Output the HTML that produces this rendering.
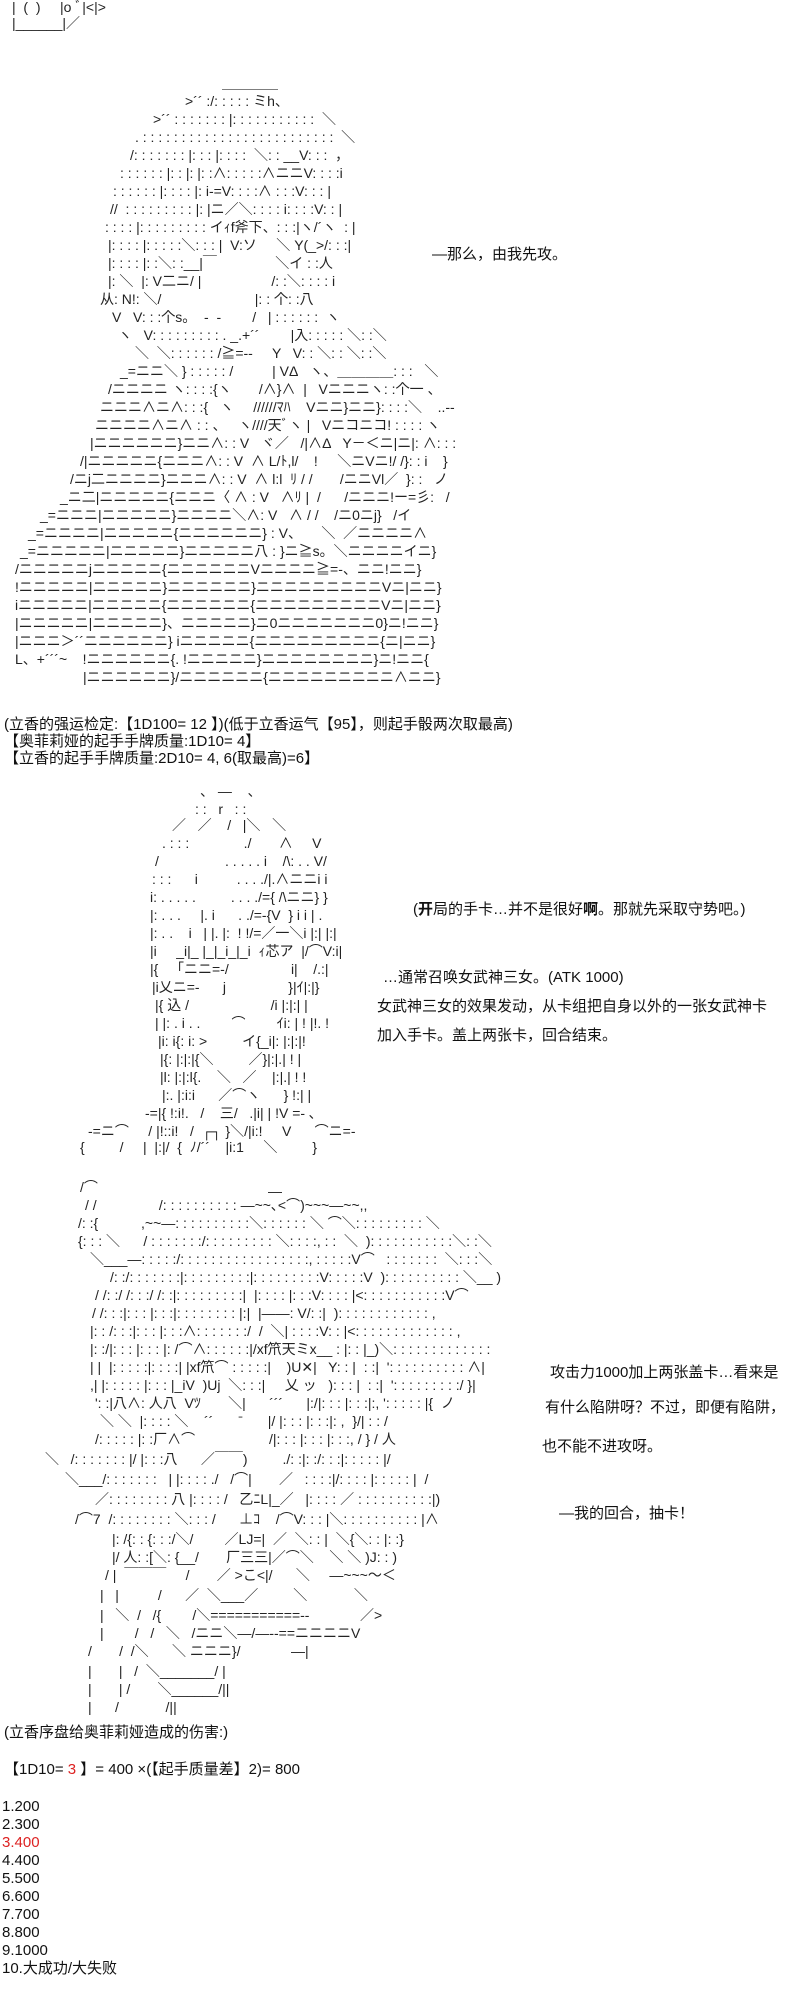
<!DOCTYPE html>
<html><head><meta charset="utf-8"><style>
html,body{margin:0;padding:0;background:#fff;}
body{width:800px;height:2000px;position:relative;overflow:hidden;color:#111;
font-family:"Liberation Sans","Noto Sans CJK SC",sans-serif;}
.aa{position:absolute;white-space:pre;font-size:14px;line-height:18px;font-family:"Liberation Sans","Noto Sans CJK JP",sans-serif;color:#222;}
.aa div{position:absolute;white-space:pre;}
.t{position:absolute;white-space:pre;font-size:15px;line-height:18px;}
.red{color:#d22;}
</style></head><body>

<div class="aa" style="left:0;top:0">
<div style="left:12px;top:-2px">|  (  )     |o ﾞ|&lt;|&gt;</div>
<div style="left:12px;top:14px">|______|／</div>
</div>

<div class="aa" style="left:0;top:74px">
<div style="left:222px;top:0">＿＿＿＿</div>
<div style="left:185px;top:18px">&gt;´´ :/: : : : : ミh、</div>
<div style="left:153px;top:36px">&gt;´´ : : : : : : : |: : : : : : : : : : :  ＼</div>
<div style="left:135px;top:54px">. : : : : : : : : : : : : : : : : : : : : : : : : :  ＼</div>
<div style="left:130px;top:72px">/: : : : : : : |: : : |: : : :  ＼: : __V: : :  ，</div>
<div style="left:120px;top:90px">: : : : : : |: : |: |: :∧: : : : :∧ニニV: : : :i</div>
<div style="left:113px;top:108px">: : : : : : |: : : : |: i-=V: : : :∧ : : :V: : : |</div>
<div style="left:110px;top:126px">//  : : : : : : : : : |: |ニ／＼: : : : i: : : :V: : |</div>
<div style="left:105px;top:144px">: : : : |: : : : : : : : : イｨf斧下、: : :|ヽ/´ヽ  : |</div>
<div style="left:108px;top:162px">|: : : : |: : : : :＼: : : |  V:ソ     ＼ Y(_&gt;/: : :|</div>
<div style="left:108px;top:180px">|: : : : |: :＼: :__|￣               ＼イ : :人</div>
<div style="left:108px;top:198px">|: ＼  |: V二ニ/ |                  /: :＼: : : : i</div>
<div style="left:100px;top:216px">从: N!: ＼/                        |: : 个: :八</div>
<div style="left:112px;top:234px">V   V: : :个s。  ‐  ‐        /   | : : : : : :  ヽ</div>
<div style="left:118px;top:252px">ヽ   V: : : : : : : : : . _.+´´        |入: : : : : ＼: :＼</div>
<div style="left:135px;top:270px">＼  ＼: : : : : : /≧=‐‐     Y   V: : ＼: : ＼: :＼</div>
<div style="left:120px;top:288px">_=ニニ＼ } : : : : : /          | VΔ   ヽ、＿＿＿＿: : :   ＼</div>
<div style="left:108px;top:306px">/ニニニニ ヽ: : : :{ヽ       /∧}∧  |   Vニニニヽ: :个一 、</div>
<div style="left:100px;top:324px">ニニニ∧ニ∧: : :{   ヽ     //////ﾏﾊ    Vニニ}ニニ}: : : :＼    ..--</div>
<div style="left:95px;top:342px">ニニニニ∧ニ∧ : : 、   ヽ////天ﾞヽ |   Vニコニコ! : : : : ヽ</div>
<div style="left:90px;top:360px">|ニニニニニニ}ニニ∧: : V   ヾ／   /|∧Δ   Y－＜ニ|ニ|: ∧: : :</div>
<div style="left:80px;top:378px">/|ニニニニニ{ニニニ∧: : V  ∧ L/ﾄ,l/    !     ＼ニVニ!/ /}: : i    }</div>
<div style="left:70px;top:396px">/ニj二ニニニニ}ニニニ∧: : V  ∧ l:l  ﾘ / /       /ニニVl／  }: :   ノ</div>
<div style="left:60px;top:414px">_ニ二|ニニニニニ{ニニニ〈 ∧ : V   ∧ﾘ |  /      /ニニニ!ー=彡:   /</div>
<div style="left:40px;top:432px">_=ニニニ|ニニニニニ}ニニニニ＼∧: V   ∧ / /    /ニ0ニj}   /イ</div>
<div style="left:28px;top:450px">_=ニニニニ|ニニニニニ{ニニニニニニ} : V、     ＼  ／ニニニニ∧</div>
<div style="left:20px;top:468px">_=ニニニニニ|ニニニニニ}ニニニニニ八 : }ニ≧s。＼ニニニニイニ}</div>
<div style="left:15px;top:486px">/ニニニニニjニニニニニ{ニニニニニニVニニニニ≧=‐、ニニ!ニニ}</div>
<div style="left:15px;top:504px">!ニニニニニ|ニニニニニ}ニニニニニニ}ニニニニニニニニニVニ|ニニ}</div>
<div style="left:15px;top:522px">iニニニニニ|ニニニニニ{ニニニニニニ{ニニニニニニニニニVニ|ニニ}</div>
<div style="left:15px;top:540px">|ニニニニニ|ニニニニニ}、ニニニニニ}ニ0ニニニニニニニ0}ニ!ニニ}</div>
<div style="left:15px;top:558px">|ニニニ＞´´ニニニニニニ} iニニニニニ{ニニニニニニニニニ{ニ|ニニ}</div>
<div style="left:15px;top:576px">L、+´´´~    !ニニニニニニ{. !ニニニニニ}ニニニニニニニニ}ニ!ニニ{</div>
<div style="left:83px;top:594px">|ニニニニニニ}/ニニニニニニ{ニニニニニニニニニ∧ニニ}</div>
</div>

<div class="t" style="left:432px;top:246px">—那么，由我先攻。</div>

<div class="t" style="left:4px;top:716px">(立香的强运检定:【1D100= 12 】)(低于立香运气【95】，则起手骰两次取最高)</div>
<div class="t" style="left:4px;top:733px">【奥菲莉娅的起手手牌质量:1D10= 4】</div>
<div class="t" style="left:4px;top:750px">【立香的起手手牌质量:2D10= 4, 6(取最高)=6】</div>

<div class="aa" style="left:0;top:782px">
<div style="left:200px;top:0">、 ―    、</div>
<div style="left:195px;top:18px">: :   r   : :</div>
<div style="left:172px;top:34px">／   ／    /   |＼   ＼</div>
<div style="left:162px;top:52px">. : : :              ./       ∧     V</div>
<div style="left:155px;top:70px">/                 . . . . . i    /\: . . V/</div>
<div style="left:152px;top:88px">: : :      i          . . . ./|.∧ニニi i</div>
<div style="left:150px;top:106px">i: . . . . .         . . . ./={ /\ニニ} }</div>
<div style="left:150px;top:124px">|: . . .     |. i      . ./=-{V  } i i | .</div>
<div style="left:150px;top:142px">|: . .    i   | |. |:  ! !/=／一＼i |:| |:|</div>
<div style="left:150px;top:160px">|i     _i|_ |_|_i_|_i  ｨ芯ア  |/⌒V:i|</div>
<div style="left:150px;top:178px">|{   「ニニ=-/                i|    /.:|</div>
<div style="left:152px;top:196px">|i乂ニ=-      j                }|ｲ|:|}</div>
<div style="left:155px;top:214px">|{ 込 /                     /i |:|:| |</div>
<div style="left:155px;top:232px">| |: . i . .        ⌒        ｲi: | ! |!. !</div>
<div style="left:158px;top:250px">|i: i{: i: &gt;         イ{_i|: |:|:|!</div>
<div style="left:160px;top:268px">|{: |:|:|{＼         ／}|:|.| ! |</div>
<div style="left:160px;top:286px">|l: |:|:l{.    ＼   ／    |:|.| ! !</div>
<div style="left:162px;top:304px">|:. |:i:i      ／⌒ヽ      } !:| |</div>
<div style="left:145px;top:322px">-=|{ !:i!.   /    三/   .|i| | !V =‐ ､</div>
<div style="left:88px;top:340px">-=ニ⌒     / |!::i!   /  ┌┐ }＼/|i:!     V      ⌒ニ=-</div>
<div style="left:80px;top:356px">{         /     |  |:|/  {  ﾉ/´´    |i:1     ＼         }</div>
</div>

<div class="t" style="left:413px;top:901px">(<b>开</b>局的手卡…并不是很好<b>啊</b>。那就先采取守势吧。)</div>
<div class="t" style="left:383px;top:969px">…通常召唤女武神三女。(ATK 1000)</div>
<div class="t" style="left:377px;top:998px">女武神三女的效果发动，从卡组把自身以外的一张女武神卡</div>
<div class="t" style="left:377px;top:1027px">加入手卡。盖上两张卡，回合结束。</div>

<div class="aa" style="left:0;top:1178px">
<div style="left:80px;top:0">/⌒</div><div style="left:268px;top:4px">―</div>
<div style="left:85px;top:18px">/ /                /: : : : : : : : : : ―~~､&lt;⌒)~~~―~~,,</div>
<div style="left:78px;top:36px">/: :{           ,~~―: : : : : : : : : :＼: : : : : : ＼ ⌒＼: : : : : : : : : ＼</div>
<div style="left:78px;top:54px">{: : : ＼      / : : : : : : :/: : : : : : : : : ＼: : : :, : :  ＼  ): : : : : : : : : : :＼: :＼</div>
<div style="left:90px;top:72px">＼___―: : : : :/: : : : : : : : : : : : : : : : :, : : : : :V⌒   : : : : : : :  ＼: : :＼</div>
<div style="left:110px;top:90px">/: :/: : : : : : :|: : : : : : : : :|: : : : : : : : :V: : : : :V  ): : : : : : : : : : ＼__ )</div>
<div style="left:95px;top:108px">/ /: :/ /: : :/ /: :|: : : : : : : : :|  |: : : : |: : :V: : : : |&lt;: : : : : : : : : : :V⌒</div>
<div style="left:92px;top:126px">/ /: : :|: : : |: : :|: : : : : : : : |:|  |――: V/: :|  ): : : : : : : : : : : : ,</div>
<div style="left:90px;top:144px">|: : /: : :|: : : |: : :∧: : : : : : :/  /  ＼| : : : :V: : |&lt;: : : : : : : : : : : : : ,</div>
<div style="left:90px;top:162px">|: :/|: : : |: : : |: /⌒∧: : : : : :|/xf笊天ミx__ : |: : |_)＼: : : : : : : : : : : : :</div>
<div style="left:90px;top:180px">| |  |: : : : :|: : : :| |xf笊⌒ : : : : :|    )U✕|   Y: : |  : :|  ': : : : : : : : : : ∧|</div>
<div style="left:90px;top:198px">,| |: : : : : |: : : |_iV  )Uj  ＼: : :|     乂 ッ   ): : : |  : :|  ': : : : : : : : :/ }|</div>
<div style="left:95px;top:216px">': :|八∧: 人八  Vﾂ       ＼|      ´´´      |:/|: : : |: : :|:, ': : : : : |{  ノ</div>
<div style="left:100px;top:234px">＼ ＼  |: : : : ＼    ´´       ̄       |/ |: : : |: : :|: ,  }/| : : /</div>
<div style="left:95px;top:252px">/: : : : : |: :厂∧⌒                   /|: : : |: : : |: : :, / } / 人</div>
<div style="left:45px;top:272px">＼   /: : : : : : : |/ |: : :八      ／￣￣)         ./: :|: :/: : :|: : : : : |/</div>
<div style="left:65px;top:292px">＼___/: : : : : : :   | |: : : : ./   /⌒|       ／   : : : :|/: : : : |: : : : : |  /</div>
<div style="left:95px;top:312px">／: : : : : : : : 八 |: : : : /   乙ﾆL|_／   |: : : : ／ : : : : : : : : : :|)</div>
<div style="left:75px;top:332px">/⌒7  /: : : : : : : : ＼: : : /      ⊥ｺ    /⌒V: : : |＼: : : : : : : : : : |∧</div>
<div style="left:112px;top:352px">|: /{: : {: : :/＼/        ／LJ=|  ／  ＼: : |  ＼{＼: : |: :}</div>
<div style="left:112px;top:370px">|/ 人: :[＼: {__/       厂三三|／⌒＼    ＼ ＼ )J: : )</div>
<div style="left:105px;top:388px">/ |  ￣￣￣     /       ／ &gt;こ&lt;|/      ＼     ―~~~～＜</div>
<div style="left:100px;top:408px">|   |          /      ／  ＼___／         ＼            ＼</div>
<div style="left:100px;top:428px">|   ＼  /   /{        /＼===========‐‐             ／&gt;</div>
<div style="left:100px;top:446px">|        /   /   ＼   /ニニ＼―/―‐‐==ニニニニV</div>
<div style="left:88px;top:464px">/       /  /＼      ＼ ニニニ}/             ―|</div>
<div style="left:88px;top:484px">|       |   /  ＼_______/ |</div>
<div style="left:88px;top:502px">|       | /       ＼______/||</div>
<div style="left:88px;top:520px">|      /            /||</div>
</div>

<div class="t" style="left:550px;top:1364px">攻击力1000加上两张盖卡…看来是</div>
<div class="t" style="left:545px;top:1399px">有什么陷阱呀？不过，即便有陷阱，</div>
<div class="t" style="left:542px;top:1438px">也不能不进攻呀。</div>
<div class="t" style="left:559px;top:1505px">—我的回合，抽卡！</div>

<div class="t" style="left:4px;top:1724px">(立香序盘给奥菲莉娅造成的伤害:)</div>
<div class="t" style="left:4px;top:1761px">【1D10= <span class="red">3</span> 】= 400 ×(【起手质量差】2)= 800</div>
<div class="t" style="left:2px;top:1798px">1.200</div>
<div class="t" style="left:2px;top:1816px">2.300</div>
<div class="t red" style="left:2px;top:1834px">3.400</div>
<div class="t" style="left:2px;top:1852px">4.400</div>
<div class="t" style="left:2px;top:1870px">5.500</div>
<div class="t" style="left:2px;top:1888px">6.600</div>
<div class="t" style="left:2px;top:1906px">7.700</div>
<div class="t" style="left:2px;top:1924px">8.800</div>
<div class="t" style="left:2px;top:1942px">9.1000</div>
<div class="t" style="left:2px;top:1960px">10.大成功/大失败</div>
</body></html>
